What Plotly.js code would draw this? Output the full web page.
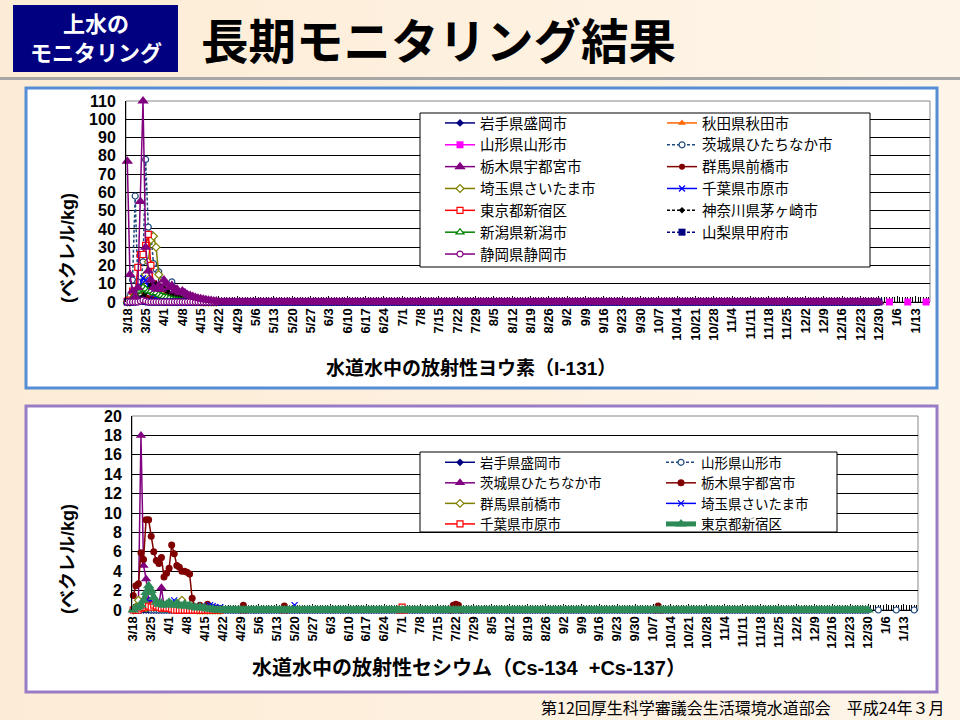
<!DOCTYPE html>
<html>
<head>
<meta charset="utf-8">
<script src="https://cdn.plot.ly/plotly-3.0.1.min.js"></script>
<style>
html, body { margin: 0; padding: 0; }
body { width: 960px; height: 720px; background: linear-gradient(to right, #fdecd5 0%, #fef5e9 100%); }
#chart { width: 960px; height: 720px; }
</style>
</head>
<body>
<div id="chart"></div>
<script>

// daily values from 3/18/2011, first 35 days (3/18 - 4/21)
var startDay = '2011-03-18';

// ---- I-131 (Bq/kg) ----
var iodineNames = ['岩手県盛岡市', '秋田県秋田市', '山形県山形市', '茨城県ひたちなか市', '栃木県宇都宮市', '群馬県前橋市',
	'埼玉県さいたま市', '千葉県市原市', '東京都新宿区', '神奈川県茅ヶ崎市', '新潟県新潟市', '山梨県甲府市', '静岡県静岡市'];

var iwateI     = [0,0,0,0.5,1,1.5,1,0.8,0.5,0.5,0.3,0.3,0,0,0, 0,0,0,0,0, 0,0,0,0,0, 0,0,0,0,0, 0,0,0,0,0];
var akitaI     = [0,0,0,0,0.5,1,1.5,1.2,1,0.8,0.6,0.5,0.4,0.3,0.2, 0,0,0,0,0, 0,0,0,0,0, 0,0,0,0,0, 0,0,0,0,0];
var yamagataI  = [0,0,0.5,1,2,3,2.5,2,1.5,1,0.8,0.6,0.5,0.4,0.3, 0.2,0,0,0,0, 0,0,0,0,0, 0,0,0,0,0, 0,0,0,0,0];
var ibarakiI   = [0,3,12,58,11,8,22,78,41,37,21,18,16.5,12,9, 8,7,11,7.6,5, 4,3.5,3,2.5,2, 1.8,1.5,1.2,1,0.8, 0.6,0.5,0.4,0.3,0.2];
var tochigiI   = [77,15,6,3,8,55,110,30,17,12,8,7,9,7,12, 10,8,9,6,7, 5,6,5,4,3.5, 3,2.5,2,1.8,1.5, 1.2,1,0.8,0.6,0.5];
var gunmaI     = [0,1,2,2.5,3,4,3,2.5,2,2,1.5,1.5,1,1,0.8, 0.6,0.5,0.4,0.3,0.2, 0,0,0,0,0, 0,0,0,0,0, 0,0,0,0,0];
var saitamaI   = [0,0,0.5,1,2,3,8,15,22,34,36,30,15,10,7, 5,4,3,2.5,2, 1.5,1.2,1,0.8,0.6, 0.5,0.4,0.3,0.2,0, 0,0,0,0,0];
var chibaI     = [0,0,1,2,4,8,13,12,9,6,4,3,2.5,2,1.5, 1.2,1,0.8,0.6,0.5, 0.4,0.3,0.2,0,0, 0,0,0,0,0, 0,0,0,0,0];
var tokyoI     = [0.5,1,6,3,19,26,26,31,37,20,10,6,5,4,3, 3,2.5,2,1.5,1.5, 1,0.8,0.6,0.5,0.4, 0.3,0.2,0,0,0, 0,0,0,0,0];
var kanagawaI  = [0,0,0,0.5,1,2,3,5,7,9.5,10.8,10,9.5,8.5,7.5, 6,5,4,3.5,3, 2.5,2,1.5,1.2,1, 0.8,0.6,0.5,0.4,0.3, 0.2,0,0,0,0];
var niigataI   = [0,0,2,4,6,7,8,7,6,6,5,5,4,3.5,3, 2.5,2,1.5,1.2,1, 0.8,0.5,0.4,0.3,0.2, 0,0,0,0,0, 0,0,0,0,0];
var yamanashiI = [0,0,0,0,0.5,1,0.5,0.3,0,0,0,0,0,0,0, 0,0,0,0,0, 0,0,0,0,0, 0,0,0,0,0, 0,0,0,0,0];
var shizuokaI  = [0,0,0,0,0,0.5,1,0.5,0,0,0,0,0,0,0, 0,0,0,0,0, 0,0,0,0,0, 0,0,0,0,0, 0,0,0,0,0];

// ---- Cs-134 + Cs-137 (Bq/kg) ----
var cesiumNames = ['岩手県盛岡市', '山形県山形市', '茨城県ひたちなか市', '栃木県宇都宮市', '群馬県前橋市', '埼玉県さいたま市', '千葉県市原市', '東京都新宿区'];

var iwateCs    = [0,0,0,0,0,0,0,0,0,0,0,0,0,0,0, 0,0,0,0,0, 0,0,0,0,0, 0,0,0,0,0, 0,0,0,0,0];
var yamagataCs = [0,0,0,0,0.2,0.3,0.2,0,0,0,0,0,0,0,0, 0,0,0,0,0, 0,0,0,0,0, 0,0,0,0,0, 0,0,0,0,0];
var ibarakiCs  = [0,0,0.5,18,4.6,3.2,1,0.6,0.4,0.3,0.5,2.3,0.4,0.3,0.2, 0.2,0.1,0,0,0, 0,0,0,0,0, 0,0,0,0,0, 0,0,0,0,0];
var tochigiCs  = [1.5,2.5,2.7,5.9,5.2,9.3,9.3,7.6,6.0,5.1,4.8,5.4,3.4,3.8,4.3, 6.7,5.8,4.6,4.4,4.0, 4.0,3.9,3.7,1.2,0.3, 0.2,0.5,0.3,0.2,0.6, 0.3,0.2,0.2,0.1,0.1];
var gunmaCs    = [0,0.3,1.0,0.5,0.3,0.2,0.4,0.5,0.3,0.4,0.3,0.2,0.3,0.2,0.3, 0.2,0.4,0.5,0.6,1.0, 0.4,0.3,0.2,0.2,0.1, 0,0,0,0,0, 0,0,0,0,0];
var saitamaCs  = [0,0,0.2,0.3,0.4,0.5,0.9,1.0,0.5,0.4,0.3,0.3,0.2,0.3,0.4, 0.3,1.0,0.6,0.4,0.5, 0.3,0.2,0.3,0.2,0.3, 0.2,0.3,0.4,0.3,0.2, 0.5,0.4,0.3,0.2,0.3];
var chibaCs    = [0,0,0,0.2,0.3,0.5,0.4,0.3,0.5,0.4,0.3,0.2,0.3,0.2,0.2, 0.1,0,0,0,0, 0,0,0,0,0, 0,0,0,0,0, 0,0,0,0,0];
var tokyoCs    = [0,0.2,0.3,0.5,1.0,1.8,2.5,2.0,1.3,0.8,0.6,0.7,0.5,0.6,0.8, 0.6,0.5,0.7,0.5,0.4, 0.6,0.4,0.5,0.3,0.3, 0.2,0.3,0.2,0.2,0.1, 0.1,0.1,0,0,0];

// later isolated readings (cesium)
var tochigiCsLateDays = ['2011-04-29','2011-04-30','2011-05-01','2011-05-15','2011-05-16','2011-05-17','2011-07-20','2011-07-21','2011-07-22','2011-07-23','2011-07-24','2011-10-08','2011-10-09','2011-10-10'];
var tochigiCsLate     = [0,0.5,0,0,0.4,0,0,0.5,0.6,0.5,0,0,0.4,0];
var saitamaCsLateDays = ['2011-05-19','2011-05-20','2011-05-21'];
var saitamaCsLate     = [0,0.5,0];
var chibaCsLateDays   = ['2011-06-30','2011-07-01','2011-07-02'];
var chibaCsLate       = [0,0.3,0];

// not detected, daily 4/22 - 12/30
var ndTail = [
	0,0,0,0,0,0,0,0,0,0, 0,0,0,0,0,0,0,0,0,0, 0,0,0,
	0,0,0,0,0,0,0,0,0,0, 0,0,0,0,0,0,0,0,0,0, 0,0,0,
	0,0,0,0,0,0,0,0,0,0, 0,0,0,0,0,0,0,0,0,0, 0,0,0,
	0,0,0,0,0,0,0,0,0,0, 0,0,0,0,0,0,0,0,0,0, 0,0,0,
	0,0,0,0,0,0,0,0,0,0, 0,0,0,0,0,0,0,0,0,0, 0,0,0,
	0,0,0,0,0,0,0,0,0,0, 0,0,0,0,0,0,0,0,0,0, 0,0,0,
	0,0,0,0,0,0,0,0,0,0, 0,0,0,0,0,0,0,0,0,0, 0,0,0,
	0,0,0,0,0,0,0,0,0,0, 0,0,0,0,0,0,0,0,0,0, 0,0,0,
	0,0,0,0,0,0,0,0,0,0, 0,0,0,0,0,0,0,0,0,0, 0,0,0,
	0,0,0,0,0,0,0,0,0,0, 0,0,0,0,0,0,0,0,0,0, 0,0,0,
	0,0,0,0,0,0,0,0,0,0, 0,0,0,0,0,0,0,0,0,0, 0,0,0
];

// Yamagata weekly readings in January 2012
var yamagataJanDays = ['2012-01-03', '2012-01-10', '2012-01-17'];
var yamagataJanI  = [0, 0, 0];
var yamagataJanCs = [0, 0, 0];

var iodineValues = [iwateI.concat(ndTail), akitaI, yamagataI, ibarakiI, tochigiI.concat(ndTail), gunmaI,
	saitamaI, chibaI, tokyoI, kanagawaI, niigataI, yamanashiI.concat(ndTail), shizuokaI];

var iodineStyles = [
	{c:'#000080', sym:'diamond', size:6},
	{c:'#ff6600', sym:'triangle-up', size:7},
	{c:'#ff00ff', sym:'square', size:7},
	{c:'#1f497d', sym:'circle', size:6, open:true, dash:'3px,2px'},
	{c:'#800080', sym:'triangle-up', size:10},
	{c:'#800000', sym:'circle', size:6},
	{c:'#808000', sym:'diamond', size:6, open:true},
	{c:'#0000ff', sym:'x-thin', size:6},
	{c:'#ff0000', sym:'square', size:6, open:true},
	{c:'#000000', sym:'diamond', size:5, dash:'3px,2px'},
	{c:'#008000', sym:'triangle-up', size:7, open:true},
	{c:'#000080', sym:'square', size:7, dash:'3px,2px'},
	{c:'#800080', sym:'circle', size:6, open:true}
];

var cesiumStyles = [
	{c:'#000080', sym:'diamond', size:6},
	{c:'#1f497d', sym:'circle', size:6, open:true, dash:'3px,2px'},
	{c:'#800080', sym:'triangle-up', size:9},
	{c:'#800000', sym:'circle', size:7},
	{c:'#808000', sym:'diamond', size:6, open:true},
	{c:'#0000ff', sym:'x-thin', size:6},
	{c:'#ff0000', sym:'square', size:6, open:true},
	{c:'#2e8b57', sym:'triangle-up', size:10, w:5}
];


function dayDates(start, n) {
	var out = [];
	var t0 = Date.parse(start + 'T00:00:00Z');
	for (var i = 0; i < n; i++) {
		out.push(new Date(t0 + i * 86400000).toISOString().slice(0, 10));
	}
	return out;
}

function makeTrace(name, x, y, st, xa, ya, legend, rank, showlegend) {
	var thin = st.sym.indexOf('thin') >= 0;
	return {
		type: 'scatter',
		mode: 'lines+markers',
		name: name,
		x: x,
		y: y,
		xaxis: xa,
		yaxis: ya,
		legend: legend,
		legendrank: rank,
		showlegend: showlegend,
		cliponaxis: false,
		line: {color: st.c, width: st.w || 1.5, dash: st.dash || 'solid'},
		marker: {
			symbol: st.sym,
			size: st.size,
			color: st.open ? '#ffffff' : st.c,
			line: {color: st.c, width: (st.open || thin) ? 1.2 : 0}
		}
	};
}

var iodineTraces = [];
for (var i = 0; i < iodineNames.length; i++) {
	var vals = iodineValues[i];
	iodineTraces.push(makeTrace(iodineNames[i], dayDates(startDay, vals.length), vals, iodineStyles[i],
		'x', 'y', i % 2 == 0 ? 'legend' : 'legend2', i + 1, true));
}
var janI = makeTrace('山形県山形市', yamagataJanDays, yamagataJanI, iodineStyles[2], 'x', 'y', 'legend', 100, false);
janI.mode = 'markers';
// Tochigi drawn last so its purple markers make the band along zero
var tochigiTrace = iodineTraces.splice(4, 1)[0];
var data = iodineTraces.concat([tochigiTrace, janI]);

// cesium chart
var cesiumX = [
	dayDates(startDay, iwateCs.length + ndTail.length),
	dayDates(startDay, yamagataCs.length + ndTail.length),
	dayDates(startDay, ibarakiCs.length),
	dayDates(startDay, tochigiCs.length).concat(tochigiCsLateDays),
	dayDates(startDay, gunmaCs.length),
	dayDates(startDay, saitamaCs.length).concat(saitamaCsLateDays),
	dayDates(startDay, chibaCs.length).concat(chibaCsLateDays),
	dayDates(startDay, tokyoCs.length + ndTail.length)
];
var cesiumY = [
	iwateCs.concat(ndTail),
	yamagataCs.concat(ndTail),
	ibarakiCs,
	tochigiCs.concat(tochigiCsLate),
	gunmaCs,
	saitamaCs.concat(saitamaCsLate),
	chibaCs.concat(chibaCsLate),
	tokyoCs.concat(ndTail)
];
for (var j = 0; j < cesiumNames.length; j++) {
	data.push(makeTrace(cesiumNames[j], cesiumX[j], cesiumY[j], cesiumStyles[j],
		'x2', 'y2', j % 2 == 0 ? 'legend3' : 'legend4', j + 1, true));
}
var janCs = makeTrace('山形県山形市', yamagataJanDays, yamagataJanCs, cesiumStyles[1], 'x2', 'y2', 'legend4', 100, false);
janCs.mode = 'markers';
data.push(janCs);


var W = 960, H = 720;
function px(v) { return v / W; }
function py(v) { return 1 - v / H; }

var numFont = {family: 'Liberation Sans, Arial, sans-serif', size: 16, color: '#000', weight: 'bold'};
var jpFont = 'Liberation Sans, Noto Sans CJK JP, sans-serif';

function xAxis(domain, anchor) {
	return {
		domain: domain,
		anchor: anchor,
		type: 'date',
		range: ['2011-03-17 12:00', '2012-01-18 12:00'],
		tick0: '2011-03-18',
		dtick: 7 * 86400000,
		tickformat: '%-m/%-d',
		tickangle: -90,
		tickfont: {family: 'Liberation Sans, Arial, sans-serif', size: 13, color: '#000', weight: 'bold'},
		ticks: 'inside',
		ticklen: 6,
		tickcolor: '#000',
		minor: {dtick: 86400000, tick0: '2011-03-18', ticks: 'inside', ticklen: 5, tickcolor: '#000', showgrid: false},
		showline: true,
		linecolor: '#000',
		linewidth: 1,
		showgrid: false,
		zeroline: false,
		layer: 'below traces',
		fixedrange: true
	};
}

function yAxis(domain, anchor, top, step) {
	return {
		domain: domain,
		anchor: anchor,
		range: [0, top],
		dtick: step,
		tickfont: numFont,
		ticks: '',
		ticklabelstandoff: 6,
		showline: true,
		linecolor: '#000',
		showgrid: true,
		gridcolor: '#000',
		gridwidth: 1,
		zeroline: false,
		fixedrange: true
	};
}

function legendAt(x, y, size) {
	return {
		x: px(x), xanchor: 'left',
		y: py(y), yanchor: 'top',
		bgcolor: 'rgba(0,0,0,0)',
		borderwidth: 0,
		font: {family: 'Noto Sans CJK JP, sans-serif', size: size, color: '#000'},
		itemwidth: 30,
		tracegroupgap: 0
	};
}

function note(text, x, y, size, opts) {
	var a = {
		text: text, x: px(x), y: py(y), xref: 'paper', yref: 'paper',
		xanchor: 'center', yanchor: 'middle', showarrow: false,
		font: {family: jpFont, size: size, color: '#000', weight: 'bold'}
	};
	for (var k in opts) { a[k] = opts[k]; }
	return a;
}

var whiteFont = {family: 'Noto Sans CJK JP, sans-serif', size: 22, color: '#ffffff', weight: 'bold'};

var layout = {
	width: W,
	height: H,
	margin: {l: 0, r: 0, t: 0, b: 0},
	paper_bgcolor: 'rgba(0,0,0,0)',
	plot_bgcolor: '#ffffff',
	showlegend: true,
	xaxis: xAxis([px(126), px(930)], 'y'),
	yaxis: yAxis([py(302), py(101)], 'x', 110, 10),
	xaxis2: xAxis([px(132), px(918)], 'y2'),
	yaxis2: yAxis([py(610), py(416)], 'x2', 20, 2),
	legend: legendAt(440, 107, 14.5),
	legend2: legendAt(662, 107, 14.5),
	legend3: legendAt(440, 447, 13.5),
	legend4: legendAt(661, 447, 13.5),
	shapes: [
		{type: 'rect', xref: 'paper', yref: 'paper', x0: px(13), x1: px(178), y0: py(72), y1: py(5),
			fillcolor: '#000080', line: {width: 0}, layer: 'below'},
		{type: 'line', xref: 'paper', yref: 'paper', x0: 0, x1: 1, y0: py(78.5), y1: py(78.5),
			line: {color: '#a6a6a6', width: 3}, layer: 'below'},
		{type: 'rect', xref: 'paper', yref: 'paper', x0: px(26), x1: px(937), y0: py(388), y1: py(88),
			fillcolor: '#ffffff', line: {color: '#558ed5', width: 3}, layer: 'below'},
		{type: 'rect', xref: 'paper', yref: 'paper', x0: px(26), x1: px(937), y0: py(692), y1: py(406),
			fillcolor: '#ffffff', line: {color: '#9a7cc6', width: 3}, layer: 'below'},
		{type: 'rect', xref: 'x domain', yref: 'y domain', x0: 0, x1: 1, y0: 0, y1: 1,
			line: {color: '#888888', width: 1}, layer: 'below'},
		{type: 'rect', xref: 'x2 domain', yref: 'y2 domain', x0: 0, x1: 1, y0: 0, y1: 1,
			line: {color: '#888888', width: 1}, layer: 'below'},
		{type: 'rect', xref: 'paper', yref: 'paper', x0: px(420), x1: px(870), y0: py(267), y1: py(113),
			fillcolor: '#ffffff', line: {color: '#000', width: 1}, layer: 'above'},
		{type: 'rect', xref: 'paper', yref: 'paper', x0: px(420), x1: px(837), y0: py(532), y1: py(452),
			fillcolor: '#ffffff', line: {color: '#000', width: 1}, layer: 'above'}
	],
	annotations: [
		note('上水の', 95.5, 21.5, 22, {font: whiteFont}),
		note('モニタリング', 95.5, 51, 22, {font: whiteFont}),
		note('長期モニタリング結果', 199, 42, 47.5, {xanchor: 'left'}),
		note('(ベクレル/kg)', 68, 248, 18, {textangle: -90}),
		note('(ベクレル/kg)', 68, 559, 18, {textangle: -90}),
		note('水道水中の放射性ヨウ素（I-131）', 471, 368, 19),
		note('水道水中の放射性セシウム（Cs-134  +Cs-137）', 469, 668, 20),
		note('第12回厚生科学審議会生活環境水道部会　平成24年３月', 947, 707, 16,
			{xanchor: 'right', font: {family: 'Noto Sans CJK JP, sans-serif', size: 16, color: '#000'}})
	]
};

Plotly.newPlot('chart', data, layout, {displayModeBar: false, staticPlot: true});

</script>
</body>
</html>
